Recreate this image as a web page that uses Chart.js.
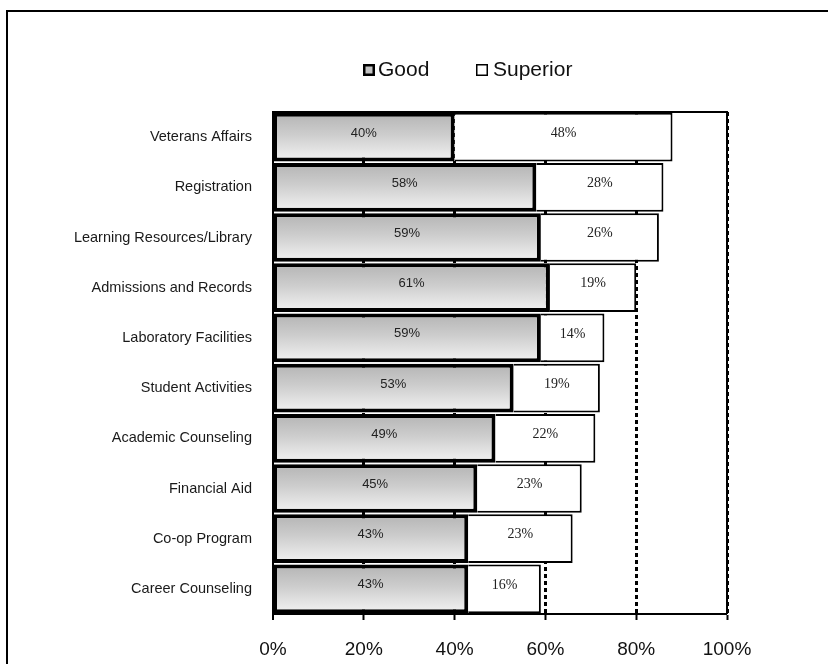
<!DOCTYPE html>
<html>
<head>
<meta charset="utf-8">
<script src="https://cdn.jsdelivr.net/npm/chart.js@4.4.1/dist/chart.umd.min.js"></script>
<style>
  html, body { margin: 0; padding: 0; background: #fff; overflow: hidden; }
  #chart { display: block; }
</style>
</head>
<body>
<canvas id="chart" width="828" height="664"></canvas>
<script>
// Data
const categories = ['Veterans Affairs', 'Registration', 'Learning Resources/Library', 'Admissions and Records',
    'Laboratory Facilities', 'Student Activities', 'Academic Counseling', 'Financial Aid', 'Co-op Program', 'Career Counseling'];
const goodValues = [40, 58, 59, 61, 59, 53, 49, 45, 43, 43];
const superiorValues = [48, 28, 26, 19, 14, 19, 22, 23, 23, 16];
const xTicks = [0, 20, 40, 60, 80, 100];

const SANS = '"Liberation Sans", Arial, sans-serif';
const SERIF = '"Liberation Serif", "Times New Roman", serif';
const BAR_PCT = 0.97;

// vertical gradient for each "Good" bar
function goodFill(context) {
    const chart = context.chart;
    const y = chart.scales.y;
    if (!y || context.dataIndex === undefined) return '#d0d0d0';
    const center = y.getPixelForValue(context.dataIndex);
    const half = (y.bottom - y.top) / categories.length * BAR_PCT / 2;
    if (!isFinite(center) || !isFinite(half) || half <= 0) return '#d0d0d0';
    const g = chart.ctx.createLinearGradient(0, center - half, 0, center + half);
    g.addColorStop(0, '#b4b4b4');
    g.addColorStop(0.45, '#cdcdcd');
    g.addColorStop(0.75, '#e2e2e2');
    g.addColorStop(1, '#f2f2f2');
    return g;
}

// outer box of the picture (only left and top edges are in view)
const outerBox = {
    id: 'outerBox',
    beforeDraw(chart) {
        const ctx = chart.ctx;
        ctx.save();
        ctx.fillStyle = '#fff';
        ctx.fillRect(0, 0, chart.width, chart.height);
        ctx.strokeStyle = '#000';
        ctx.lineWidth = 2;
        ctx.beginPath();
        ctx.moveTo(7, chart.height);
        ctx.lineTo(7, 11);
        ctx.lineTo(chart.width, 11);
        ctx.stroke();
        ctx.restore();
    }
};

// top and right edge of the plot area
const framePlugin = {
    id: 'frame',
    beforeDatasetsDraw(chart) {
        const { ctx, chartArea: a } = chart;
        ctx.save();
        ctx.strokeStyle = '#000';
        ctx.lineWidth = 2;
        ctx.beginPath();
        ctx.moveTo(a.left, a.top);
        ctx.lineTo(a.right, a.top);
        ctx.lineTo(a.right, a.bottom);
        ctx.stroke();
        ctx.restore();
    }
};

// value labels inside the bars
const valueLabels = {
    id: 'valueLabels',
    afterDatasetsDraw(chart) {
        const ctx = chart.ctx;
        ctx.save();
        ctx.textAlign = 'center';
        ctx.textBaseline = 'middle';
        ctx.fillStyle = '#222';
        chart.data.datasets.forEach((ds, di) => {
            ctx.font = di === 0 ? '13px ' + SANS : '14px ' + SERIF;
            chart.getDatasetMeta(di).data.forEach((el, i) => {
                const cx = (el.x + el.base) / 2;
                ctx.fillText(ds.data[i] + '%', cx, el.y - 4);
            });
        });
        ctx.restore();
    }
};

// legend above the plot
const legendPlugin = {
    id: 'customLegend',
    afterDraw(chart) {
        const ctx = chart.ctx;
        ctx.save();
        ctx.font = '21px ' + SANS;
        ctx.textBaseline = 'middle';
        ctx.textAlign = 'left';
        const boxX = [363, 476];
        const top = 64, size = 12;
        chart.data.datasets.forEach((ds, di) => {
            const x = boxX[di];
            if (di === 0) {
                ctx.fillStyle = '#c4c4c4';
                ctx.fillRect(x, top, size, size);
                ctx.lineWidth = 2.5;
                ctx.strokeStyle = '#000';
                ctx.strokeRect(x + 1.25, top + 1.25, size - 2.5, size - 2.5);
            } else {
                ctx.fillStyle = '#fff';
                ctx.fillRect(x, top, size, size);
                ctx.lineWidth = 1.5;
                ctx.strokeStyle = '#000';
                ctx.strokeRect(x + 0.75, top + 0.75, size - 1.5, size - 1.5);
            }
            ctx.fillStyle = '#111';
            ctx.fillText(ds.label, x + size + (di === 0 ? 3 : 5), top + 6);
        });
        ctx.restore();
    }
};

new Chart(document.getElementById('chart'), {
    type: 'bar',
    data: {
        labels: categories,
        datasets: [
            {
                label: 'Good',
                data: goodValues,
                backgroundColor: goodFill,
                borderColor: '#000',
                borderWidth: 4,
                borderSkipped: false,
                barPercentage: BAR_PCT,
                categoryPercentage: 1
            },
            {
                label: 'Superior',
                data: superiorValues,
                backgroundColor: '#fff',
                borderColor: '#000',
                borderWidth: 2,
                borderSkipped: 'start',
                barPercentage: BAR_PCT,
                categoryPercentage: 1
            }
        ]
    },
    options: {
        indexAxis: 'y',
        responsive: false,
        animation: false,
        layout: { padding: { top: 112, right: 101, bottom: 0, left: 10 } },
        plugins: {
            legend: { display: false },
            tooltip: { enabled: false }
        },
        scales: {
            x: {
                stacked: true,
                min: 0,
                max: 100,
                afterBuildTicks: scale => { scale.ticks = xTicks.map(v => ({ value: v })); },
                afterFit: scale => { scale.height = 50; },
                ticks: {
                    callback: v => v + '%',
                    font: { family: SANS, size: 19 },
                    color: '#111',
                    padding: 18,
                    maxRotation: 0
                },
                grid: {
                    color: '#000',
                    lineWidth: ctx => (ctx.tick && ctx.tick.value === 0 ? 0 : 3),
                    tickLength: 6,
                    tickWidth: 2,
                    tickColor: '#000',
                    tickBorderDash: []
                },
                border: { display: true, color: '#000', width: 2, dash: [4, 3] }
            },
            y: {
                stacked: true,
                afterFit: scale => { scale.width = 263; },
                ticks: {
                    font: { family: SANS, size: 14.5 },
                    color: '#1a1a1a',
                    padding: 13
                },
                grid: { display: false },
                border: { display: true, color: '#000', width: 2 }
            }
        }
    },
    plugins: [outerBox, framePlugin, valueLabels, legendPlugin]
});
</script>
</body>
</html>
